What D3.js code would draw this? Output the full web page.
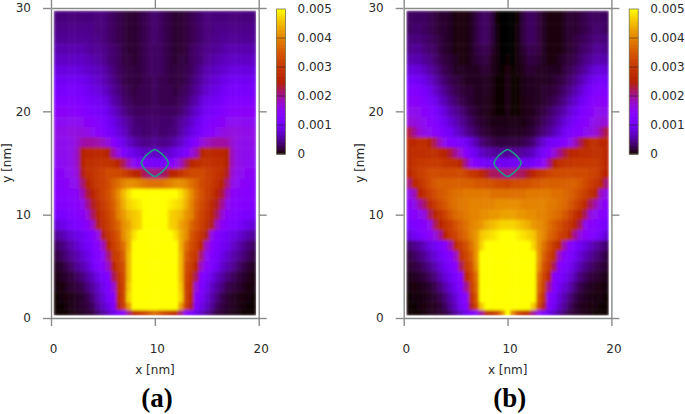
<!DOCTYPE html>
<meta charset="utf-8">
<style>
  body { margin: 0; background: #fff; }
  text { font-family: "DejaVu Sans", sans-serif; font-size: 12px; fill: #2a2a2a; }
  .panel-tag { font-family: "Liberation Serif", serif; font-size: 27px; font-weight: bold; fill: #000; text-anchor: middle; }
  .axis path, .axis line { stroke: #8a8a8a; stroke-width: 1.4; fill: none; }
</style>
<svg width="685" height="414"></svg>
<script src="https://d3js.org/d3.v7.min.js"></script>
<script>
  // cell edges of the rows in nm, top to bottom
  var rowEdges = [29.75, 28.5, 27.5, 26.5, 25.5, 24.5, 23.5, 22.5, 21.5, 20.5, 19.5, 18.5, 17.5, 16.5, 15.5, 14.5, 13.5,
    12.5, 11.5, 10.5, 9.5, 8.5, 7.5, 6.5, 5.5, 4.5, 3.5, 2.5, 1.5, 0.75, 0.25];
  var xTicks = [0, 10, 20], yTicks = [0, 10, 20, 30], barTicks = [0, 0.001, 0.002, 0.003, 0.004, 0.005];

  // left half of each row, x = 0.5 .. 10 nm in 0.5 steps, unit 0.0001 (the right half mirrors it)
  var valuesA = [
    [4,4,4,4,4,4,4,4,4,4,3.5,3,2.5,2,1.5,1.5,2,2.5,3,3.5],
    [4.5,4.5,4.5,4.5,4.5,4.5,4.5,4.5,4,4,3.5,3,2.5,2,1.5,1.5,2,2.5,3,3.5],
    [5,5,5,5,5,5,5,4.5,4.5,4,3.5,3,2.5,2,1.5,1.5,2,2.5,3,3.5],
    [6,6,6,6,6,6,5.5,5,5,4.5,4,3.5,3,2,1.5,1.5,2,2.5,3,3],
    [7,7,7,7,7,7,6.5,6,5.5,5,4,3.5,3,2,2,1.5,2,2.5,3,3],
    [8.5,8.5,8.5,8.5,8.5,8,7.5,7,6.5,6,5,4,3,2.5,2,2,2,2.5,3,3],
    [10,10,10,10,10,9.5,9,8,7.5,6.5,5.5,4.5,3.5,2.5,2,2,2,2.5,2.5,3],
    [11.5,11.5,11.5,11.5,11,11,10,9,8.5,7.5,6.5,5,4,3,2.5,2,2.5,2.5,2.5,3],
    [13,13,13,13,12.5,12.5,11.5,10.5,10,9,8,6,5,3.5,3,2.5,2.5,2.5,2.5,3],
    [14.5,14.5,14.5,14,14,13.5,13,12,11,10.5,9,7.5,6,4.5,3.5,3,3,3,3,3],
    [15,15,15,15,15,15,14.5,14,13,12,10.5,9,7.5,6,5,4,3.5,3.5,3.5,3.5],
    [16,16,16,16.5,16.5,16.5,16,15,14,13,11.5,10,8.5,7,5.5,4,4,3.5,3.5,4],
    [16,15.5,15.5,16,17,19,19.5,19.5,19,18,16.5,14,11,9,7,6,5,4.5,4.5,5],
    [15.5,15.5,15.5,16,18,25,27,27,27,27,25,19,16,12,10,9,8,7,7,7],
    [15,15,15.5,16,18,25,28,28,28.5,29,29,28,26,22,18,15,13,12,11,11],
    [14.5,14.5,15,15.5,17,24,28,29,30,31,33,33,33,31,29,27,26,22,21,21],
    [14,14,14.5,15,16,21,26,28,30,31,33,36,38,40,41,41,40,39,38,38],
    [13.5,13.5,14,14,14.5,18,23,26,29,31,34,37,41,45,48,50,50,50,50,50],
    [13,13,13,13.5,14,15.5,20,24,27,30,33,36,40,44,47,48,49,50,50,50],
    [11,11.5,12,12.5,13,14.5,17,22,26,29,32,35,40,42,45,46,47,50,50,50],
    [8,9,10,11,12,13,14.5,18,24,28,31,34,37,41,43,46,47,50,50,50],
    [5,6,7,8,9,10,11.5,13,16,24,29,32,35,41,44,48,50,50,50,50],
    [3,4,5,6,7.5,9,10.5,12,14,18,26,31,34,38,44,50,50,50,50,50],
    [2,3,4,5,6,7.5,9,11,13,15,21,30,32,36,45,50,50,50,50,50],
    [1,1.5,2.5,3.5,5,6,7.5,10,12,14,18,26,31,34,45,50,50,50,50,50],
    [0.5,1,1.5,2,3,4,5.5,7,9,11,13,22,29,33,45,50,50,50,50,50],
    [0.3,0.5,1,1.5,2,2.5,4,5.5,7,9.5,12,17,28,32,46,50,50,50,50,50],
    [0.2,0.3,0.5,0.7,1,1.5,2.5,4,6,8,11,14,27,32,47,50,50,50,50,50],
    [0.2,0.2,0.4,0.7,1,1.5,2,3,5,7,9,13,24,31,42,50,50,50,50,50],
    [0.1,0.1,0.2,0.4,0.7,1,1.5,2,3.5,5,7,9,12,14,21,27,29,31,34,37]
  ];
  var valuesB = [
    [3,3,3,3,2.5,2,1.5,1.5,1,0.5,0.5,0.5,1,2,3,3,2,0.2,0,0],
    [3,3.5,3.5,3,2.5,2,1.5,1.5,1,0.5,0.5,0.5,1,2,3,3,2,0.3,0,0],
    [4,4,4,3.5,3,2.5,2,1.5,1,0.5,0.5,0.5,1,2,3,3,2,0.3,0,0],
    [4.5,5,5,4,3.5,3,2,1.5,1,0.5,0.5,0.5,1,2,2.5,2.5,1.5,0.3,0,0],
    [6,6,6,5,4.5,3.5,2.5,2,1.5,1,0.5,0.5,1,1.5,2,2,1,0.3,0,0.2],
    [8,8.5,8,7,5.5,4.5,3.5,2.5,2,1,1,1,1,1,1.5,1.5,0.8,0.3,0.1,0.5],
    [10.5,11,10,9,7.5,6,4.5,3.5,2.5,2,1.5,1,1,1,1,1,0.7,0.2,0.2,0.7],
    [12.5,13,12.5,11,9.5,7.5,6,4.5,3.5,2.5,2,1.5,1.5,1,1,1,0.6,0.2,0.2,0.7],
    [14.5,14.5,14,13,11,9.5,7.5,6,4.5,3.5,2.5,2,1.5,1,1,0.8,0.5,0.2,0.2,0.7],
    [15.5,15.5,15,14,13,11.5,9.5,8,6,5,4,3,2,1.5,1,0.8,0.5,0.2,0.2,0.7],
    [17,16.5,16,15,14,13,11,9.5,8,6.5,5,4,3,2,1.5,1,0.7,0.7,0.7,0.7],
    [23,20,17,16,15,14,13,11.5,10,8,6.5,5,4,3,2,1.5,1.2,1,1,1],
    [27,27,28,28,25,22,18,15,13,12,11,10,8,6,4,3,2.5,2,2,2],
    [27,28,28,28,28,28,27,26,23,20,17,14,11,9,7,6,5.5,5,5,5],
    [27,29,30,30,30,30,30,29,29,28,25,20,15,13,11,10,10,10,10,10],
    [26,29,31,32,33,33,33,33,33,33,33,32,30,29,27,24,22,22,21,21],
    [21,27,29,31,33,35,36,36,36,36,36,36,36,35,35,34,34,33,33,32],
    [16,18,26,28,31,33,35,36,37,38,38,39,39,39,39,39,38,38,38,38],
    [14.5,15.5,19,22,27,30,33,35,37,38,39,39,40,40,40,40,40,41,41,41],
    [13,14,15,16.5,22,26,29,32,35,37,38,39,40,40,41,41,42,42,43,43],
    [11,12,13,14,15.5,22,26,29,31,34,36,38,40,41,42,44,45,46,47,47],
    [8,10,11.5,13,14.5,16.5,20,26,30,32,35,37,40,42,46,47,48,49,50,50],
    [3.5,4.5,5.5,7,8.5,10,12,14,19,27,30,34,38,42,47,50,50,50,50,50],
    [2,3,4,5,6.5,8,10,12,14,18,28,32,36,42,50,50,50,50,50,50],
    [1.5,2,2.5,3.5,4.5,6,8,10,12,14,22,30,34,41,50,50,50,50,50,50],
    [0.7,1,1.5,2,3,4,6,8,10,12,14,26,32,38,50,50,50,50,50,50],
    [0.3,0.5,0.7,1,1.5,2.5,4,6,8,10,13,20,31,37,50,50,50,50,50,50],
    [0.2,0.3,0.4,0.7,1,1.5,2.5,4,6,8,11,14,28,35,50,50,50,50,50,50],
    [0.2,0.2,0.3,0.5,0.8,1,1.7,3,5,7,10,13,24,33,46,50,50,50,50,50],
    [0.1,0.1,0.2,0.4,0.7,1,1.5,2,3.5,5,7,9,12,15,20,27,28,32,40,50]
  ];
  // the small loop around (10, 15), nm
  var loopX = [10, 10.45, 10.95, 11.3, 10.95, 10.45, 10, 9.55, 9.05, 8.7, 9.05, 9.55];
  var loopY = [16.3, 16.05, 15.6, 15, 14.4, 13.95, 13.7, 13.95, 14.4, 15, 15.6, 16.05];

  var svg = d3.select("svg");
  var defs = svg.append("defs");
  var blur = defs.append("filter").attr("id", "soft")
    .attr("x", "-2%").attr("y", "-2%").attr("width", "104%").attr("height", "104%");
  blur.append("feGaussianBlur").attr("stdDeviation", 1.6).attr("edgeMode", "duplicate");

  // gnuplot's default pm3d palette
  function palette(t) {
    t = Math.max(0, Math.min(1, t));
    return d3.rgb(255 * Math.sqrt(t), 255 * t * t * t, 255 * Math.max(0, Math.sin(2 * Math.PI * t))).formatRgb();
  }
  var color = d3.scaleSequential(palette).domain([0, 0.005]);

  function drawPanel(dx, values, tag, name) {
    var g = svg.append("g").attr("transform", "translate(" + dx + ",0)");
    var x = d3.scaleLinear().domain([0, 20]).range([51, 258.7]);
    var y = d3.scaleLinear().domain([0, 30]).range([318, 8]);
    var cols = d3.scaleBand().domain(d3.range(39)).range([x(0.25), x(19.75)]);

    defs.append("clipPath").attr("id", "clip" + name).append("rect")
      .attr("x", x(0.25)).attr("y", y(29.75))
      .attr("width", x(19.75) - x(0.25)).attr("height", y(0.25) - y(29.75));

    var cells = g.append("g").attr("clip-path", "url(#clip" + name + ")")
      .append("g").attr("filter", "url(#soft)");

    values.forEach(function(half, r) {
      var row = half.concat(half.slice(0, -1).reverse());
      cells.selectAll(".r" + r)
        .data(row)
        .enter().append("rect")
        .attr("class", "r" + r)
        .attr("x", function(d, i) { return cols(i); })
        .attr("y", y(rowEdges[r]))
        .attr("width", cols.bandwidth() + 0.4)
        .attr("height", y(rowEdges[r + 1]) - y(rowEdges[r]) + 0.4)
        .attr("fill", function(d) { return color(d * 0.0001); });
    });

    // loop
    var line = d3.line()
      .x(function(d) { return x(loopX[d]); })
      .y(function(d) { return y(loopY[d]); })
      .curve(d3.curveCatmullRomClosed);
    g.append("path")
      .attr("d", line(d3.range(loopX.length)))
      .attr("fill", "none")
      .attr("stroke", "#1f9c88")
      .attr("stroke-width", 1.6);

    // box with ticks on all four sides
    g.append("g").attr("class", "axis").attr("transform", "translate(0,318)")
      .call(d3.axisBottom(x).tickValues(xTicks).tickSize(8).tickSizeOuter(0).tickPadding(18))
      .selectAll("text").attr("dx", 2);
    g.append("g").attr("class", "axis").attr("transform", "translate(0,8)")
      .call(d3.axisTop(x).tickValues(xTicks).tickSize(8).tickSizeOuter(0).tickFormat(""));
    g.append("g").attr("class", "axis").attr("transform", "translate(51,0)")
      .call(d3.axisLeft(y).tickValues(yTicks).tickSize(8).tickSizeOuter(0).tickPadding(12));
    g.append("g").attr("class", "axis").attr("transform", "translate(258.7,0)")
      .call(d3.axisRight(y).tickValues(yTicks).tickSize(8).tickSizeOuter(0).tickFormat(""));
    g.selectAll(".axis text").style("font-size", "12px").style("font-family", "DejaVu Sans").attr("fill", "#2a2a2a");

    g.append("text").attr("x", 155).attr("y", 374).attr("text-anchor", "middle").text("x [nm]");
    g.append("text").attr("transform", "translate(11,163) rotate(-90)").attr("text-anchor", "middle").text("y [nm]");
    g.append("text").attr("class", "panel-tag").attr("x", 157).attr("y", 407).text(tag);

    // colour bar
    var bar = d3.scaleLinear().domain([0, 0.005]).range([154, 9]);
    g.append("g").selectAll("rect")
      .data(d3.range(0, 0.005, 0.00002))
      .enter().append("rect")
      .attr("x", 276.5).attr("width", 9)
      .attr("y", function(d) { return bar(d) - 0.6; })
      .attr("height", 1.2)
      .attr("fill", function(d) { return color(d); });
    g.append("rect").attr("x", 276.5).attr("y", 9).attr("width", 9).attr("height", 145)
      .attr("fill", "none").attr("stroke", "#77775a").attr("stroke-width", 0.8);
    g.append("g").selectAll("line")
      .data(barTicks.slice(1, -1))
      .enter().append("line")
      .attr("x1", 276.5).attr("x2", 285.5)
      .attr("y1", function(d) { return bar(d); })
      .attr("y2", function(d) { return bar(d); })
      .attr("stroke", "#222").attr("stroke-opacity", 0.6).attr("stroke-width", 0.8);
    g.append("g").selectAll("text")
      .data(barTicks)
      .enter().append("text")
      .attr("x", 297.5)
      .attr("y", function(d) { return bar(d); })
      .attr("dy", "0.36em")
      .text(function(d) { return d === 0 ? "0" : d3.format(".3f")(d); });
  }

  drawPanel(0, valuesA, "(a)", "A");
  drawPanel(352.7, valuesB, "(b)", "B");
</script>
